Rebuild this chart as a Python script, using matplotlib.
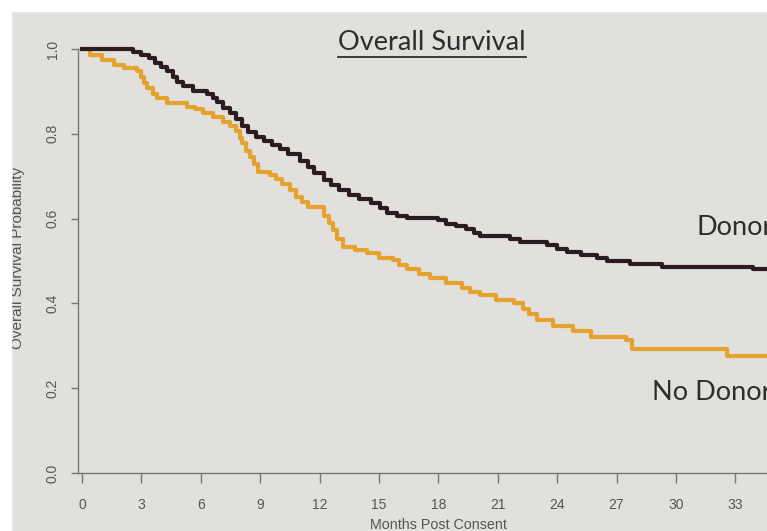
import numpy as np
import matplotlib
matplotlib.use("Agg")
import matplotlib.pyplot as plt
from matplotlib.patches import Rectangle
from matplotlib.lines import Line2D

# Kaplan-Meier steps (months, survival)
donor_t = [0, 2.6, 3.0, 3.4, 3.7, 4.0, 4.3, 4.6, 4.8, 5.1, 5.6, 6.3, 6.6, 6.8, 7.1,
           7.5, 7.8, 8.1, 8.4, 8.8, 9.2, 9.6, 10.0, 10.4, 11.0, 11.4, 11.7, 12.2,
           12.6, 13.0, 13.5, 14.0, 14.6, 15.05, 15.4, 15.9, 16.4, 18.0, 18.4, 18.9,
           19.4, 19.8, 20.1, 21.6, 22.1, 23.5, 24.0, 24.5, 25.2, 26.0, 26.5, 27.7,
           29.3, 33.9, 34.6]
donor_s = [1.0, 0.993, 0.985, 0.978, 0.968, 0.958, 0.948, 0.935, 0.922, 0.912, 0.902,
           0.895, 0.885, 0.875, 0.862, 0.85, 0.835, 0.818, 0.805, 0.792, 0.782, 0.774,
           0.764, 0.752, 0.736, 0.722, 0.708, 0.692, 0.68, 0.668, 0.656, 0.646, 0.636,
           0.626, 0.614, 0.606, 0.602, 0.596, 0.588, 0.582, 0.575, 0.566, 0.56, 0.553,
           0.545, 0.538, 0.528, 0.522, 0.514, 0.508, 0.501, 0.494, 0.487, 0.481, 0.481]

nodonor_t = [0, 0.4, 1.0, 1.6, 2.1, 2.8, 3.0, 3.15, 3.3, 3.6, 3.8, 4.3, 5.3, 5.7, 6.1,
             6.6, 7.1, 7.5, 7.8, 8.0, 8.1, 8.3, 8.5, 8.7, 8.9, 9.5, 9.8, 10.1, 10.5,
             10.8, 11.1, 11.4, 12.2, 12.5, 12.7, 12.9, 13.2, 13.8, 14.4, 15.0, 15.7,
             16.0, 16.4, 17.0, 17.6, 18.4, 19.2, 19.6, 20.1, 20.9, 21.8, 22.3, 22.6,
             23.0, 23.8, 24.8, 25.7, 27.5, 27.8, 32.6, 34.6]
nodonor_s = [1.0, 0.985, 0.974, 0.962, 0.955, 0.948, 0.934, 0.92, 0.908, 0.895, 0.885,
             0.873, 0.864, 0.858, 0.85, 0.84, 0.828, 0.818, 0.806, 0.79, 0.778, 0.76,
             0.745, 0.728, 0.71, 0.702, 0.694, 0.682, 0.668, 0.652, 0.64, 0.628, 0.605,
             0.59, 0.574, 0.552, 0.534, 0.526, 0.52, 0.508, 0.503, 0.49, 0.48, 0.47,
             0.461, 0.449, 0.437, 0.428, 0.42, 0.409, 0.402, 0.386, 0.375, 0.362, 0.346,
             0.334, 0.32, 0.313, 0.292, 0.275, 0.275]

xticks = [0, 3, 6, 9, 12, 15, 18, 21, 24, 27, 30, 33]
yticks = [0.0, 0.2, 0.4, 0.6, 0.8, 1.0]

W, H = 767, 531
bg = '#e2e0dc'
fig = plt.figure(figsize=(W / 100, H / 100), dpi=100, facecolor=bg)

ax = fig.add_axes([78 / W, 1 - 473 / H, 1 - 78 / W, (473 - 49) / H])
ax.set_facecolor('none')
ax.set_xlim(-0.2, 34.6)
ax.set_ylim(0, 1.0)

ax.step(donor_t, donor_s, where='post', color='#2b1c22', lw=3.0, clip_on=False)
ax.step(nodonor_t, nodonor_s, where='post', color='#e3a32e', lw=3.0, clip_on=False,
        zorder=1)

for s in ['top', 'right']:
    ax.spines[s].set_visible(False)
for s in ['left', 'bottom']:
    ax.spines[s].set_color('#777777')
    ax.spines[s].set_linewidth(1.0)

ax.set_xticks(xticks)
ax.set_xticklabels([str(v) for v in xticks])
ax.set_yticks(yticks)
ax.set_yticklabels(['%.1f' % v for v in yticks], rotation=90, va='center')
ax.tick_params(axis='x', length=7, width=1, color='#777777', pad=11,
               labelsize=10, labelcolor='#555555')
ax.tick_params(axis='y', length=5, width=1, color='#777777', pad=8,
               labelsize=10, labelcolor='#555555')
for lab in ax.get_xticklabels() + ax.get_yticklabels():
    lab.set_family('Liberation Sans')

fig.text(18 / W, 1 - 258 / H, 'Overall Survival Probability', rotation=90,
         ha='center', va='center', fontsize=11, color='#555555',
         family='Liberation Sans')
fig.text(438 / W, 1 - 525 / H, 'Months Post Consent', ha='center', va='center',
         fontsize=10.3, color='#555555', family='Liberation Sans')

title = fig.text(432 / W, 1 - 42 / H, 'Overall Survival', ha='center', va='center',
                 fontsize=19.5, color='#2e2e2e', family='Lato')
fig.canvas.draw()
bb = title.get_window_extent()
fig.lines.append(Line2D([bb.x0, bb.x1], [H - 57, H - 57], transform=None,
                        color='#2e2e2e', lw=1.3))

ax.text(31.06, 0.561, 'Donor', ha='left', va='baseline', fontsize=19.5,
        color='#2e2e2e', family='Lato', clip_on=False)
ax.text(28.8, 0.172, 'No Donor', ha='left', va='baseline', fontsize=19.5,
        color='#2e2e2e', family='Lato', clip_on=False)

# white photo border on top and left, drawn over everything
fig.add_artist(Rectangle((0, 1 - 11 / H), 1, 11 / H, transform=fig.transFigure,
                         color='white', zorder=10))
fig.add_artist(Rectangle((0, 0), 11 / W, 1, transform=fig.transFigure,
                         color='white', zorder=10))

fig.savefig('out.png', dpi=100, facecolor=bg)
